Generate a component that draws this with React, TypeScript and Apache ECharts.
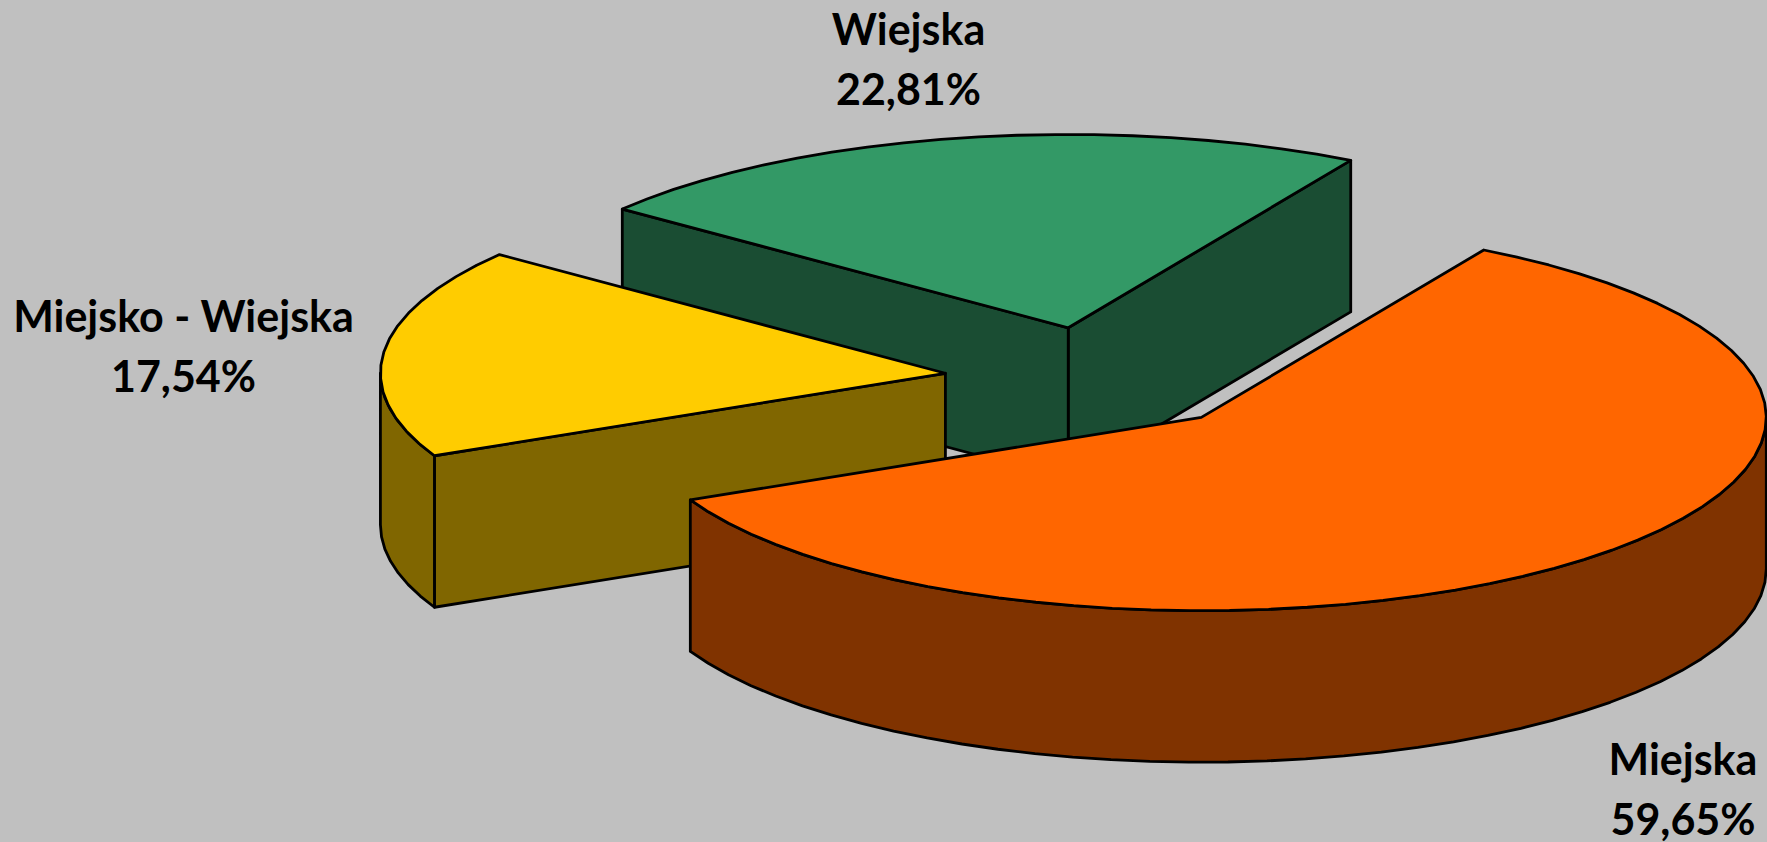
import React, { useEffect, useRef } from "react";
import * as echarts from "echarts";

const categories = ["Wiejska", "Miejsko - Wiejska", "Miejska"];
const shares = [22.81, 17.54, 59.65];
const topColors = ["#339966", "#FFCC00", "#FF6600"];
const sideColors = ["#1A4D33", "#806600", "#803300"];

const WIDTH = 1767;
const HEIGHT = 842;
const CX = 1097.6;
const CY = 379;
const RX = 565;
const RY = 193.3;
const DEPTH = 151.5;
const EXPLODE_X = 0.271;
const EXPLODE_Y = 0.27;
const START_ANGLE = 60;
const ARC_STEP = 4;
const LABEL_ANCHORS = [
  [908.5, 58.5],
  [183.5, 345],
  [1683, 788],
];

const rad = (d: number) => (d * Math.PI) / 180;

function arc(cx: number, cy: number, from: number, to: number) {
  const pts: number[][] = [];
  const n = Math.max(1, Math.ceil((to - from) / ARC_STEP));
  for (let i = 0; i <= n; i++) {
    const a = rad(from + ((to - from) * i) / n);
    pts.push([cx + RX * Math.cos(a), cy - RY * Math.sin(a)]);
  }
  return pts;
}

const formatShare = (v: number) => v.toFixed(2).replace(".", ",") + "%";

function renderSlice(params: any, api: any) {
  const i = params.dataIndex;
  const total = shares.reduce((s, v) => s + v, 0);
  const before = shares.slice(0, i).reduce((s, v) => s + v, 0);
  const a0 = START_ANGLE + (before / total) * 360;
  const a1 = a0 + (api.value(0) / total) * 360;
  const mid = rad((a0 + a1) / 2);
  const cx = CX + EXPLODE_X * RX * Math.cos(mid);
  const cy = CY - EXPLODE_Y * RY * Math.sin(mid);
  const stroke = { stroke: "#000", lineWidth: 2.8, lineJoin: "round" };
  const face = (points: number[][], fill: string) => ({
    type: "polygon",
    shape: { points },
    style: { fill, ...stroke },
    silent: true,
  });
  const radial = (a: number) => {
    const x = cx + RX * Math.cos(rad(a));
    const y = cy - RY * Math.sin(rad(a));
    return face(
      [
        [cx, cy],
        [x, y],
        [x, y + DEPTH],
        [cx, cy + DEPTH],
      ],
      sideColors[i]
    );
  };
  const children: any[] = [];
  if (Math.cos(rad(a0)) > 0) children.push(radial(a0));
  if (Math.cos(rad(a1)) < 0) children.push(radial(a1));
  const wallFrom = Math.max(a0, 180);
  const wallTo = Math.min(a1, 360);
  if (wallTo > wallFrom) {
    const top = arc(cx, cy, wallFrom, wallTo);
    const bottom = top.map(([x, y]) => [x, y + DEPTH]).reverse();
    children.push(face([...top, ...bottom], sideColors[i]));
  }
  children.push(face([[cx, cy], ...arc(cx, cy, a0, a1)], topColors[i]));
  children.push({
    type: "text",
    silent: true,
    x: LABEL_ANCHORS[i][0],
    y: LABEL_ANCHORS[i][1],
    style: {
      text: `${categories[i]}\n${formatShare(api.value(0))}`,
      fill: "#000",
      font: "bold 43px Lato, sans-serif",
      lineHeight: 60,
      align: "center",
      verticalAlign: "middle",
    },
  });
  return { type: "group", children };
}

export default function App() {
  const ref = useRef<HTMLDivElement>(null);
  useEffect(() => {
    document.body.style.margin = "0";
    document.body.style.overflow = "hidden";
    const chart = echarts.init(ref.current!, undefined, { renderer: "svg" });
    chart.setOption({
      animation: false,
      backgroundColor: "#C0C0C0",
      series: [
        {
          type: "custom",
          coordinateSystem: "none",
          clip: false,
          renderItem: renderSlice,
          data: shares.map((v) => [v]),
        },
      ],
    });
    return () => chart.dispose();
  }, []);
  return <div ref={ref} style={{ width: WIDTH, height: HEIGHT }} />;
}
